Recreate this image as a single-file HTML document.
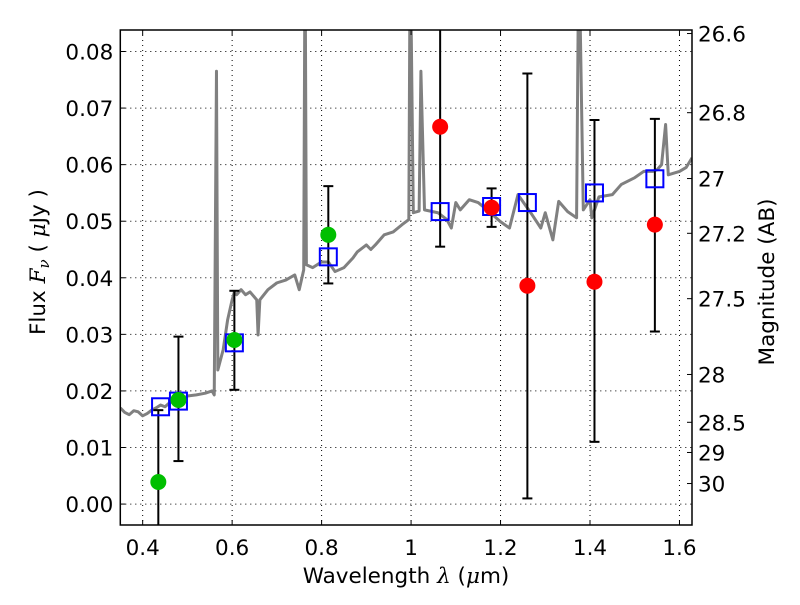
<!DOCTYPE html>
<html><head><meta charset="utf-8">
<style>
body{margin:0;background:#fff;}
svg text{font-family:"DejaVu Sans","Liberation Sans",sans-serif;fill:#000;}
</style></head>
<body>
<svg id="chart" width="800" height="600" xmlns="http://www.w3.org/2000/svg"></svg>
<script>
const specX=[0.35,0.36,0.37,0.38,0.39,0.40,0.41,0.42,0.43,0.44,0.45,0.46,0.47,0.48,0.49,0.50,0.52,0.54,0.555,0.56,0.565,0.568,0.58,0.59,0.60,0.605,0.61,0.62,0.63,0.64,0.655,0.658,0.662,0.68,0.70,0.72,0.74,0.75,0.76,0.763,0.766,0.78,0.80,0.815,0.83,0.85,0.87,0.88,0.90,0.91,0.92,0.94,0.96,0.98,0.995,0.998,1.005,1.018,1.022,1.03,1.06,1.08,1.09,1.10,1.11,1.13,1.15,1.17,1.20,1.22,1.239,1.27,1.29,1.30,1.317,1.33,1.35,1.37,1.375,1.385,1.40,1.404,1.42,1.45,1.47,1.50,1.52,1.54,1.55,1.56,1.569,1.575,1.60,1.615,1.628];
const specY=[0.0170,0.0162,0.0158,0.0165,0.0163,0.0156,0.0160,0.0166,0.0170,0.0175,0.0172,0.0179,0.0182,0.0188,0.0186,0.0191,0.0193,0.0196,0.0200,0.0193,0.0765,0.0237,0.0273,0.0326,0.0361,0.0375,0.0370,0.0379,0.0370,0.0375,0.0361,0.0299,0.0361,0.0379,0.0391,0.0396,0.0405,0.0379,0.0414,0.1,0.0423,0.0418,0.0428,0.0428,0.0411,0.0418,0.0435,0.0446,0.0458,0.0450,0.0458,0.0476,0.0481,0.0494,0.0503,0.1,0.0515,0.0518,0.0765,0.0520,0.0515,0.0503,0.0488,0.0533,0.0520,0.0538,0.0533,0.0520,0.0499,0.0488,0.0547,0.0512,0.0488,0.0515,0.0467,0.0535,0.0517,0.0506,0.1,0.0520,0.0538,0.0506,0.0543,0.0547,0.0565,0.0577,0.0588,0.0588,0.0591,0.0600,0.0671,0.0582,0.0588,0.0595,0.0612];
const modelX=[0.44,0.48,0.605,0.815,1.065,1.18,1.26,1.41,1.545];
const modelY=[0.0172,0.0182,0.0285,0.0437,0.0517,0.0526,0.0533,0.0550,0.0575];
const greenX=[0.435,0.48,0.605,0.815];
const greenY=[0.0039,0.0184,0.0290,0.0476];
const greenHi=[0.0166,0.0296,0.0377,0.0562];
const greenLo=[-0.02,0.0076,0.0202,0.0390];
const redX=[1.065,1.18,1.26,1.41,1.545];
const redY=[0.0667,0.0524,0.0386,0.0393,0.0494];
const redHi=[0.12,0.0558,0.0761,0.0679,0.0681];
const redLo=[0.0455,0.0490,0.0010,0.0110,0.0305];
const xTicks=[0.4,0.6,0.8,1.0,1.2,1.4,1.6];
const xTickLabels=["0.4","0.6","0.8","1","1.2","1.4","1.6"];
const yTicks=[0,0.01,0.02,0.03,0.04,0.05,0.06,0.07,0.08];
const yTickLabels=["0.00","0.01","0.02","0.03","0.04","0.05","0.06","0.07","0.08"];
const magTicks=[26.6,26.8,27,27.2,27.5,28,28.5,29,30];
const magTickLabels=["26.6","26.8","27","27.2","27.5","28","28.5","29","30"];

const L=120.3,R=692,T=30,B=525,X0=0.35,X1=1.628,Y0=-0.0037,Y1=0.0838;
const sx=v=>L+(v-X0)/(X1-X0)*(R-L);
const sy=v=>B-(v-Y0)/(Y1-Y0)*(B-T);
const NS="http://www.w3.org/2000/svg";
const svg=document.getElementById('chart');
function mk(tag,attrs,parent){const e=document.createElementNS(NS,tag);for(const k in attrs)e.setAttribute(k,attrs[k]);(parent||svg).appendChild(e);return e;}
const defs=mk('defs',{});const cp=mk('clipPath',{id:'clip'},defs);mk('rect',{x:L,y:T,width:R-L,height:B-T},cp);

const grid=mk('g',{});


xTicks.forEach(v=>{mk('line',{x1:sx(v),x2:sx(v),y1:T,y2:B,stroke:'#000','stroke-width':1,'stroke-dasharray':'1,4'},grid);});
yTicks.forEach(v=>{mk('line',{x1:L,x2:R,y1:sy(v),y2:sy(v),stroke:'#000','stroke-width':1,'stroke-dasharray':'1,4'},grid);});

const plot=mk('g',{'clip-path':'url(#clip)'});
const sp=mk('polyline',{points:specX.map((x,i)=>sx(x)+','+sy(specY[i])).join(' '),fill:'none',stroke:'#808080','stroke-width':3,'stroke-linejoin':'round'},plot);



function ebar(x,lo,hi,name){const g=mk('g',{},plot);


const X=sx(x);mk('line',{x1:X,x2:X,y1:sy(lo),y2:sy(hi),stroke:'#000','stroke-width':2},g);
[lo,hi].forEach(v=>mk('line',{x1:X-5,x2:X+5,y1:sy(v),y2:sy(v),stroke:'#000','stroke-width':2},g));}
greenX.forEach((x,i)=>ebar(x,greenLo[i],greenHi[i],'errorbar-green'));
redX.forEach((x,i)=>ebar(x,redLo[i],redHi[i],'errorbar-red'));
modelX.forEach((x,i)=>{const r=mk('rect',{x:sx(x)-8.5,y:sy(modelY[i])-8.5,width:17,height:17,fill:'none',stroke:'#0000ff','stroke-width':2},plot);

});
greenX.forEach((x,i)=>{const c=mk('circle',{cx:sx(x),cy:sy(greenY[i]),r:8,fill:'#00bf00'},plot);

});
redX.forEach((x,i)=>{const c=mk('circle',{cx:sx(x),cy:sy(redY[i]),r:8,fill:'#ff0000'},plot);

});

const fr=mk('rect',{x:L,y:T,width:R-L,height:B-T,fill:'none',stroke:'#000','stroke-width':1.5});



xTicks.forEach((v,i)=>{const X=sx(v);
mk('line',{x1:X,x2:X,y1:B,y2:B-5,stroke:'#000'});mk('line',{x1:X,x2:X,y1:T,y2:T+5,stroke:'#000'});
const t=mk('text',{x:X,y:B+30,'text-anchor':'middle','font-size':21.5});t.textContent=xTickLabels[i];

});
yTicks.forEach((v,i)=>{const Y=sy(v);
mk('line',{x1:L,x2:L+5,y1:Y,y2:Y,stroke:'#000'});
const t=mk('text',{x:L-7,y:Y+8,'text-anchor':'end','font-size':21.5});t.textContent=yTickLabels[i];

});
magTicks.forEach((m,i)=>{const Y=sy(Math.pow(10,(23.9-m)/2.5));
mk('line',{x1:R,x2:R-5,y1:Y,y2:Y,stroke:'#000'});
const t=mk('text',{x:R+6,y:Y+8,'text-anchor':'start','font-size':21.5});t.textContent=magTickLabels[i];

});

const xt=mk('text',{x:406,y:583,'text-anchor':'middle','font-size':21.5});
xt.innerHTML='Wavelength  <tspan font-style="italic" font-family="DejaVu Serif,serif">λ</tspan> (<tspan font-style="italic" font-family="DejaVu Serif,serif">μ</tspan>m)';


const yt=mk('text',{transform:'translate(45,262) rotate(-90)','text-anchor':'middle','font-size':21.5});
yt.innerHTML='Flux  <tspan font-style="italic" font-family="DejaVu Serif,serif">F<tspan font-size="15" dy="4">ν</tspan></tspan><tspan dy="-4">  ( </tspan><tspan font-style="italic" font-family="DejaVu Serif,serif">μ</tspan>Jy )';


const rt=mk('text',{transform:'translate(774,282) rotate(-90)','text-anchor':'middle','font-size':21.5});
rt.textContent='Magnitude (AB)';


</script>
</body></html>
